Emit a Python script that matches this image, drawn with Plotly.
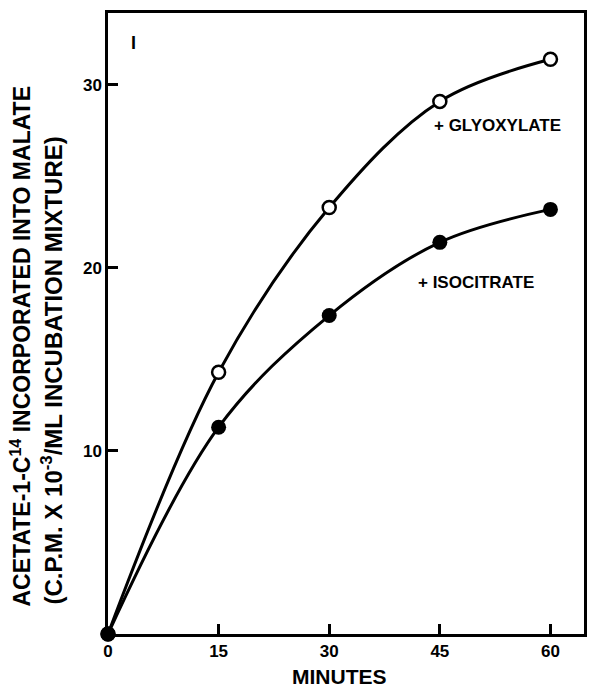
import plotly.graph_objects as go

minutes = [0, 15, 30, 45, 60]
glyoxylate = [0, 14.3, 23.3, 29.1, 31.4]
isocitrate = [0, 11.3, 17.4, 21.4, 23.2]
x_ticks = [0, 15, 30, 45, 60]
x_ticktext = ["0", "15", "30", "45", "60"]
y_ticks = [10, 20, 30]
y_ticktext = ["10", "20", "30"]

FONT = "Liberation Sans"

fig = go.Figure()
fig.add_trace(go.Scatter(
    x=minutes, y=glyoxylate, mode="lines+markers",
    line=dict(color="black", width=3, shape="spline", smoothing=1.0),
    marker=dict(symbol="circle", size=13, color="white",
                line=dict(color="black", width=2.5)),
    showlegend=False, cliponaxis=False))
fig.add_trace(go.Scatter(
    x=minutes, y=isocitrate, mode="lines+markers",
    line=dict(color="black", width=3, shape="spline", smoothing=1.0),
    marker=dict(symbol="circle", size=15, color="black"),
    showlegend=False, cliponaxis=False))

fig.update_layout(
    width=589, height=690,
    margin=dict(l=108, r=2, t=13, b=56),
    paper_bgcolor="white", plot_bgcolor="white",
    font=dict(family=FONT, color="black", size=17, weight="bold"),
    xaxis=dict(range=[0, 64.55], tickvals=x_ticks, ticktext=x_ticktext,
               ticks="inside", ticklen=10, tickwidth=2.5, tickcolor="black",
               showline=True, linewidth=2.5, linecolor="black", mirror=True,
               showgrid=False, zeroline=False,
               tickfont=dict(family=FONT, size=17, weight="bold")),
    yaxis=dict(range=[0, 33.93], tickvals=y_ticks, ticktext=y_ticktext,
               ticks="inside", ticklen=10, tickwidth=2.5, tickcolor="black",
               showline=True, linewidth=2.5, linecolor="black", mirror=True,
               showgrid=False, zeroline=False,
               tickfont=dict(family=FONT, size=17, weight="bold")),
)

fig.add_annotation(text="MINUTES", xref="paper", yref="paper", x=0.487, y=-0.069,
                   yanchor="middle", xanchor="center", showarrow=False,
                   font=dict(family=FONT, size=21, weight="bold"))
fig.add_annotation(text="ACETATE-1-C<sup>14</sup> INCORPORATED INTO MALATE",
                   xref="paper", yref="paper", x=-0.1835, y=0.464, textangle=-90,
                   xanchor="center", yanchor="middle", showarrow=False,
                   font=dict(family=FONT, size=23, weight="bold"))
fig.add_annotation(text="(C.P.M. X 10<sup>-3</sup>/ML INCUBATION MIXTURE)",
                   xref="paper", yref="paper", x=-0.118, y=0.424, textangle=-90,
                   xanchor="center", yanchor="middle", showarrow=False,
                   font=dict(family=FONT, size=24, weight="bold"))
fig.add_annotation(text="+ GLYOXYLATE", x=52.8, y=27.8, xref="x", yref="y",
                   showarrow=False, font=dict(family=FONT, size=17, weight="bold"))
fig.add_annotation(text="+ ISOCITRATE", x=49.9, y=19.2, xref="x", yref="y",
                   showarrow=False, font=dict(family=FONT, size=17, weight="bold"))
fig.add_annotation(text="I", x=3.4, y=32.3, xref="x", yref="y",
                   showarrow=False, font=dict(family=FONT, size=18, weight="bold"))

fig.write_html("out.html")
